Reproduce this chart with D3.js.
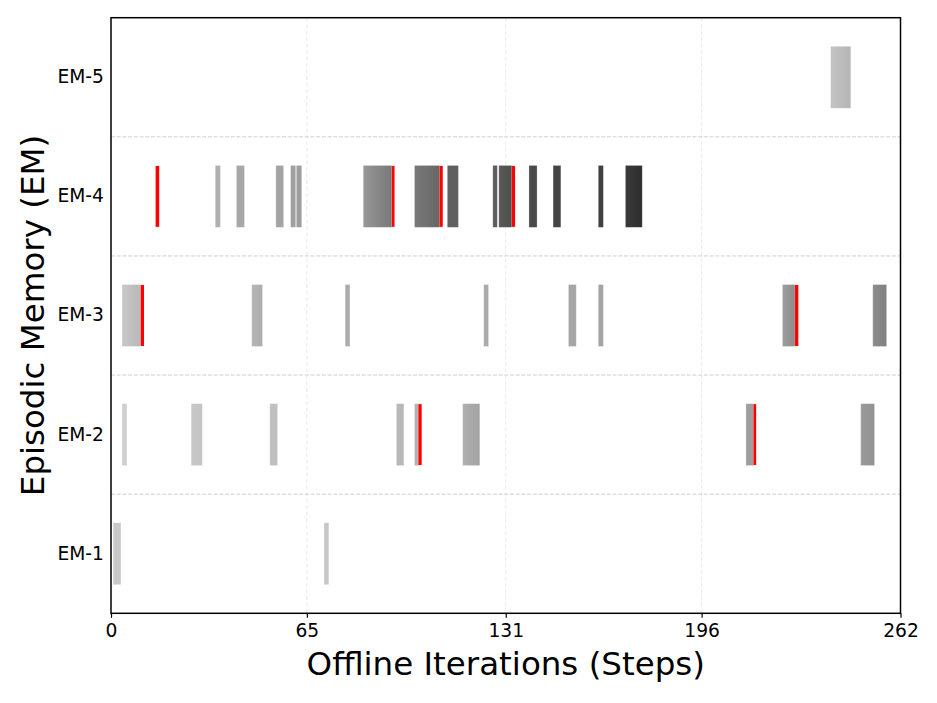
<!DOCTYPE html>
<html>
<head>
<meta charset="utf-8">
<script src="https://cdn.jsdelivr.net/npm/d3@7"></script>
<style>
  html, body { margin: 0; padding: 0; background: #fff; }
  svg { display: block; font-family: "DejaVu Sans", sans-serif; }
</style>
</head>
<body>
<svg id="chart" width="937" height="703"></svg>
<script>
// ---------- data ----------
const memories = ["EM-1", "EM-2", "EM-3", "EM-4", "EM-5"];
const xTicks = [0, 65, 131, 196, 262];
const xMax = 262;

// usage spans: [startStep, endStep, usageLevelAtStart, usageLevelAtEnd]  (level 0..255, higher = more used)
const em1Spans = [[0.7, 3.3, 55, 55], [70.7, 72.3, 57, 57]];
const em2Spans = [[3.65, 5.3, 47, 47], [26.6, 30.3, 55, 59], [52.7, 55.3, 63, 63], [94.7, 97.2, 71, 71],
                  [100.7, 102.0, 75, 75], [116.7, 122.4, 79, 93], [210.7, 213.2, 97, 97], [248.8, 253.4, 101, 109]];
const em3Spans = [[3.65, 9.86, 55, 71], [46.7, 50.3, 75, 81], [77.7, 79.3, 83, 83], [123.7, 125.3, 85, 85],
                  [151.8, 154.4, 89, 89], [161.7, 163.4, 91, 91], [222.8, 227.0, 97, 115], [252.8, 257.4, 115, 127]];
const em4Spans = [[34.6, 36.3, 79, 79], [41.6, 44.3, 87, 87], [54.7, 57.3, 92, 92], [59.6, 61.3, 95, 95],
                  [61.5, 63.3, 97, 97], [83.7, 93.2, 103, 135], [100.7, 109.0, 133, 153], [111.6, 115.3, 159, 159],
                  [126.7, 128.2, 163, 163], [128.7, 133.0, 167, 177], [138.7, 141.4, 181, 181], [146.7, 149.3, 186, 186],
                  [161.7, 163.4, 191, 191], [170.7, 176.3, 197, 209]];
const em5Spans = [[238.8, 245.5, 59, 75]];

// consolidation events (red markers): [startStep, endStep]
const em1Events = [];
const em2Events = [[102.0, 103.1], [213.2, 214.1]];
const em3Events = [[9.86, 10.95], [227.0, 228.1]];
const em4Events = [[14.8, 16.0], [93.2, 94.1], [109.0, 110.1], [133.0, 134.1]];
const em5Events = [];

const xLabel = "Offline Iterations (Steps)";
const yLabel = "Episodic Memory (EM)";

// ---------- build ----------
const spansByRow = { "EM-1": em1Spans, "EM-2": em2Spans, "EM-3": em3Spans, "EM-4": em4Spans, "EM-5": em5Spans };
const eventsByRow = { "EM-1": em1Events, "EM-2": em2Events, "EM-3": em3Events, "EM-4": em4Events, "EM-5": em5Events };

const spans = [];
memories.forEach(m => spansByRow[m].forEach((s, i) => spans.push({ row: m, x0: s[0], x1: s[1], l0: s[2], l1: s[3], id: m + "-" + i })));
const events = [];
memories.forEach(m => eventsByRow[m].forEach(e => events.push({ row: m, x0: e[0], x1: e[1] })));

const W = 937, H = 703;
const margin = { top: 17.7, right: 36.5, bottom: 89.7, left: 111 };
const svg = d3.select("#chart");

const x = d3.scaleLinear().domain([0, xMax]).range([margin.left, W - margin.right]);
const y = d3.scaleBand().domain(memories.slice().reverse()).range([margin.top, H - margin.bottom]).padding(0);
const barH = y.bandwidth() * 0.52;
const level = d3.scaleLinear().domain([0, 255]).range(["#ffffff", "#000000"]);

// gradients
const defs = svg.append("defs");
spans.forEach(s => {
  const g = defs.append("linearGradient").attr("id", "g-" + s.id)
    .attr("x1", "0").attr("x2", "1").attr("y1", "0").attr("y2", "0");
  g.append("stop").attr("offset", "0%").attr("stop-color", level(s.l0));
  g.append("stop").attr("offset", "100%").attr("stop-color", level(s.l1));
});

// grid
const grid = svg.append("g");
grid.selectAll("line.vg").data(xTicks.filter(t => t > 0 && t < xMax)).join("line")
  .attr("x1", d => x(d)).attr("x2", d => x(d))
  .attr("y1", margin.top).attr("y2", H - margin.bottom)
  .attr("stroke", "#ebebeb").attr("stroke-width", 1).attr("stroke-dasharray", "4,2.5");
const bounds = memories.slice(1).map(m => y(m) + y.bandwidth());
grid.selectAll("line.hg").data(bounds).join("line")
  .attr("x1", margin.left).attr("x2", W - margin.right)
  .attr("y1", d => d).attr("y2", d => d)
  .attr("stroke", "#cfcfcf").attr("stroke-width", 1).attr("stroke-dasharray", "4,1.7");

// spans
svg.append("g").selectAll("rect").data(spans).join("rect")
  .attr("x", d => x(d.x0))
  .attr("width", d => x(d.x1) - x(d.x0))
  .attr("y", d => y(d.row) + (y.bandwidth() - barH) / 2)
  .attr("height", barH)
  .attr("fill", d => `url(#g-${d.id})`)
  .attr("stroke", "#ffffff").attr("stroke-opacity", 0.35).attr("stroke-width", 0.8);

// events
svg.append("g").selectAll("rect").data(events).join("rect")
  .attr("x", d => x(d.x0))
  .attr("width", d => x(d.x1) - x(d.x0))
  .attr("y", d => y(d.row) + (y.bandwidth() - barH) / 2 + 0.5)
  .attr("height", barH - 1)
  .attr("fill", "#ff0000");

// axes
const xAxis = d3.axisBottom(x).tickValues(xTicks).tickFormat(d3.format("d")).tickSizeOuter(0).tickSize(4.5).tickPadding(6);
const gx = svg.append("g").attr("transform", `translate(0,${H - margin.bottom})`).call(xAxis);
gx.select(".domain").remove();
gx.selectAll(".tick line").attr("stroke", "#000").attr("stroke-width", 1.2);
gx.selectAll(".tick text").attr("font-size", 18.7).attr("fill", "#000").attr("font-family", "DejaVu Sans");

const yAxis = d3.axisLeft(y).tickSize(0).tickPadding(7);
const gy = svg.append("g").attr("transform", `translate(${margin.left},0)`).call(yAxis);
gy.select(".domain").remove();
gy.selectAll(".tick text").attr("font-size", 18.7).attr("fill", "#000").attr("font-family", "DejaVu Sans");

// frame
svg.append("rect")
  .attr("x", margin.left).attr("y", margin.top)
  .attr("width", W - margin.right - margin.left).attr("height", H - margin.bottom - margin.top)
  .attr("fill", "none").attr("stroke", "#000").attr("stroke-width", 1.5);

// titles
svg.append("text").attr("x", (margin.left + W - margin.right) / 2).attr("y", 675)
  .attr("text-anchor", "middle").attr("font-size", 32.5).attr("fill", "#000").text(xLabel);
svg.append("text")
  .attr("transform", `translate(44,${(margin.top + H - margin.bottom) / 2}) rotate(-90)`)
  .attr("text-anchor", "middle").attr("font-size", 32.5).attr("fill", "#000").text(yLabel);
</script>
</body>
</html>
